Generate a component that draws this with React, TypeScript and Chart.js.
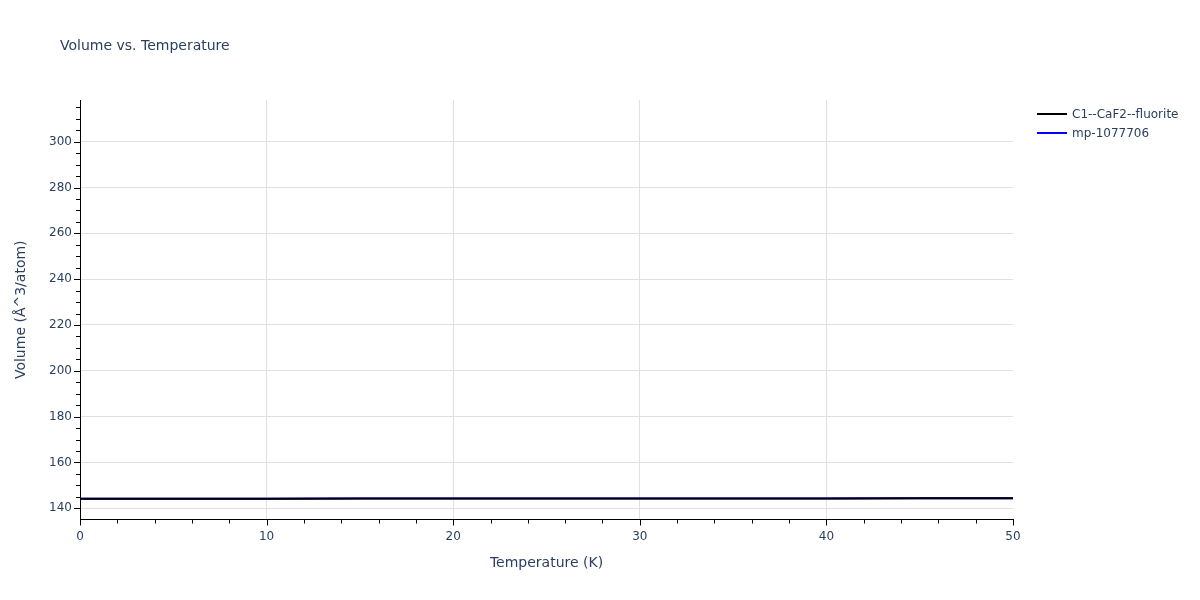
import { Chart, registerables } from 'chart.js'
import { useEffect, useRef } from 'react'

Chart.register(...registerables)

// temperatures (K) and volumes (Å^3/atom)
const temps = [0, 5, 10, 15, 20, 25, 30, 35, 40, 45, 50]
const fluoriteVolume = [144.2, 144.2, 144.21, 144.22, 144.23, 144.25, 144.27, 144.29, 144.31, 144.34, 144.37]
const mpVolume = [144.2, 144.2, 144.21, 144.22, 144.23, 144.25, 144.27, 144.29, 144.31, 144.34, 144.37]
const xTicks = [0, 10, 20, 30, 40, 50]
const yTicks = [140, 160, 180, 200, 220, 240, 260, 280, 300]

const textColor = '#2a3f5f'
const fontFamily = '"DejaVu Sans", verdana, arial, sans-serif'

// plotly-style outside tick marks, minors included
const tickMarks = {
  id: 'tickMarks',
  afterDraw(chart: any) {
    const { ctx, chartArea, scales } = chart
    ctx.save()
    ctx.strokeStyle = '#000'
    ctx.lineWidth = 1
    for (let v = scales.x.min; v <= scales.x.max; v += 2) {
      const x = Math.round(scales.x.getPixelForValue(v)) + 0.5
      const len = v % 10 === 0 ? 6 : 4
      ctx.beginPath()
      ctx.moveTo(x, chartArea.bottom)
      ctx.lineTo(x, chartArea.bottom + len)
      ctx.stroke()
    }
    for (let v = 140; v <= scales.y.max; v += 5) {
      const y = Math.round(scales.y.getPixelForValue(v)) + 0.5
      const len = v % 20 === 0 ? 6 : 4
      ctx.beginPath()
      ctx.moveTo(chartArea.left, y)
      ctx.lineTo(chartArea.left - len, y)
      ctx.stroke()
    }
    ctx.restore()
  },
}

const VolumeChart = () => {
  const chartRef = useRef<HTMLCanvasElement | null>(null)

  useEffect(() => {
    const ctx = chartRef.current?.getContext('2d')
    if (!ctx) return

    const chart = new Chart(ctx, {
      type: 'line',
      data: {
        datasets: [
          {
            label: 'C1--CaF2--fluorite',
            data: temps.map((t, i) => ({ x: t, y: fluoriteVolume[i] })),
            borderColor: '#000000',
            borderWidth: 2,
            pointRadius: 0,
            order: 0,
          },
          {
            label: 'mp-1077706',
            data: temps.map((t, i) => ({ x: t, y: mpVolume[i] })),
            borderColor: '#0000ff',
            borderWidth: 2,
            pointRadius: 0,
            order: 1,
          },
        ],
      },
      options: {
        responsive: false,
        animation: false,
        layout: { padding: { left: 0, top: 100, right: 187, bottom: 0 } },
        plugins: {
          legend: { display: false },
          tooltip: { enabled: false },
        },
        scales: {
          x: {
            type: 'linear',
            min: 0,
            max: 50,
            afterFit: (scale: any) => {
              scale.height = 80.5
            },
            afterBuildTicks: (scale: any) => {
              scale.ticks = xTicks.map((v) => ({ value: v }))
            },
            grid: {
              drawTicks: false,
              color: (c: any) =>
                c.tick && (c.tick.value === 0 || c.tick.value === 50) ? 'rgba(0,0,0,0)' : '#e0e0e0',
            },
            border: { color: '#000', width: 1 },
            ticks: {
              padding: 10,
              maxRotation: 0,
              color: textColor,
              font: { family: fontFamily, size: 12 },
            },
            title: {
              display: true,
              text: 'Temperature (K)',
              color: textColor,
              font: { family: fontFamily, size: 14 },
              padding: { top: 0, bottom: 28 },
            },
          },
          y: {
            type: 'linear',
            min: 135.1,
            max: 318.2,
            afterFit: (scale: any) => {
              scale.width = 80
            },
            afterBuildTicks: (scale: any) => {
              scale.ticks = yTicks.map((v) => ({ value: v }))
            },
            grid: { drawTicks: false, color: '#e0e0e0' },
            border: { color: '#000', width: 1 },
            ticks: {
              padding: 8,
              color: textColor,
              font: { family: fontFamily, size: 12 },
            },
            title: {
              display: true,
              text: 'Volume (Å^3/atom)',
              color: textColor,
              font: { family: fontFamily, size: 14 },
              padding: { top: 13, bottom: 0 },
            },
          },
        },
      },
      plugins: [tickMarks],
    })

    return () => {
      chart.destroy()
    }
  }, [])

  return <canvas ref={chartRef} width={1200} height={600} />
}

const legendItems = [
  { label: 'C1--CaF2--fluorite', color: '#000000', top: 114 },
  { label: 'mp-1077706', color: '#0000ff', top: 133 },
]

export default function App() {
  return (
    <div
      style={{
        position: 'fixed',
        left: 0,
        top: 0,
        width: 1200,
        height: 600,
        background: '#fff',
        fontFamily,
      }}
    >
      <VolumeChart />
      <div
        style={{
          position: 'absolute',
          left: 60,
          top: 35,
          fontSize: 14,
          lineHeight: '20px',
          color: textColor,
          whiteSpace: 'nowrap',
        }}
      >
        Volume vs. Temperature
      </div>
      {legendItems.map((item) => (
        <div
          key={item.label}
          style={{
            position: 'absolute',
            left: 1037,
            top: item.top - 9,
            height: 18,
            display: 'flex',
            alignItems: 'center',
            fontSize: 12,
            color: textColor,
            whiteSpace: 'nowrap',
          }}
        >
          <span style={{ display: 'inline-block', width: 30, height: 2, background: item.color, marginRight: 5 }} />
          {item.label}
        </div>
      ))}
    </div>
  )
}
